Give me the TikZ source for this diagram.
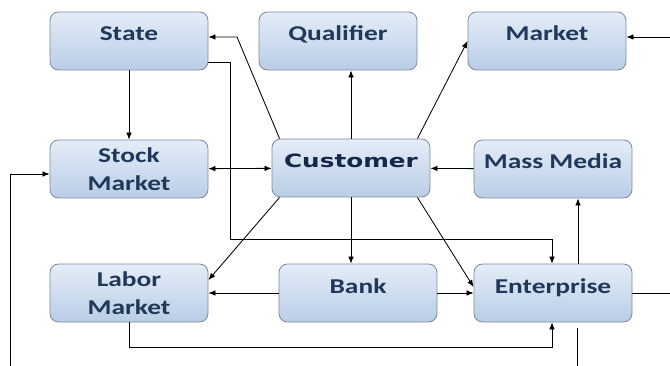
\documentclass[tikz,border=0pt]{standalone}
\usepackage{fontspec}
\setmainfont{Carlito}[FakeStretch=1.3]
\newfontfamily\custfont{DejaVu Sans}[FakeStretch=1.35]
\usetikzlibrary{arrows.meta,calc}
\definecolor{boxtop}{RGB}{228,237,248}
\definecolor{boxbot}{RGB}{185,205,229}
\definecolor{boxline}{RGB}{125,140,160}
\definecolor{boxtext}{RGB}{32,56,90}
\definecolor{custtext}{RGB}{22,40,74}
\begin{document}
\begin{tikzpicture}[x=0.025cm,y=-0.025cm,
    blockbox/.style={draw=boxline,line width=0.6pt,rounded corners=6pt,
      top color=boxtop,bottom color=boxbot,minimum width=158*0.025cm,
      minimum height=58*0.025cm,align=center,text=boxtext,
      font=\bfseries\fontsize{15}{20}\selectfont},
    oneline/.style={text height=10pt,text depth=10pt},
    arr/.style={-{Latex[length=5pt,width=4pt]},line width=0.6pt},
    dbl/.style={{Latex[length=5pt,width=4pt]}-{Latex[length=5pt,width=4pt]},line width=0.6pt}]
      \useasboundingbox (0,0) rectangle (670,366);

      \node[blockbox,oneline] (state) at (129,41) {State};
      \node[blockbox,oneline] (qual) at (338,41) {Qualifier};
      \node[blockbox,oneline] (market) at (547,41) {Market};
      \node[blockbox] (stock) at (129,169) {Stock\\Market};
      \node[blockbox,oneline,text=custtext,font=\custfont\bfseries\fontsize{13}{16}\selectfont] (cust) at (351,168) {Customer};
      \node[blockbox,oneline] (media) at (553,169) {Mass Media};
      \node[blockbox] (labor) at (129,293) {Labor\\Market};
      \node[blockbox,oneline] (bank) at (358,293) {Bank};
      \node[blockbox,oneline] (ent) at (553,293) {Enterprise};

      \coordinate (sbend) at (237,37);
      \coordinate (c1) at (230,239);
      \coordinate (c2) at (552,347);
      \coordinate (c3) at (10,366);
      \coordinate (c4) at (577,366);
      \coordinate (mr) at (670,37);
      \coordinate (er) at (670,293);

      % top row
      \draw[arr] ($(cust.north west)+(8,0)$) -- (sbend) -- (sbend -| state.east);
      \draw[arr] (state) -- (stock);
      \draw[arr] ($(state.east)+(0,21)$) -| (c1) -| ($(ent.north)+(-1,0)$);
      \draw[arr] (cust.north) -- (cust.north |- qual.south);
      \draw[arr] ($(cust.north east)+(-13,0)$) -- (market.west);
      \draw[arr] (mr) -- (mr -| market.east);

      % middle row
      \draw[dbl] (stock) -- (cust);
      \draw[arr] (media) -- (cust);
      \draw[arr] (c3) |- ($(stock.west)+(0,5)$);

      % bottom row
      \draw[arr] ($(cust.south west)+(8,0)$) -- ($(labor.east)+(0,-13)$);
      \draw[arr] (cust.south) -- (cust.south |- bank.north);
      \draw[arr] ($(cust.south east)+(-13,0)$) -- ($(ent.west)+(0,-6)$);
      \draw[arr] (bank) -- (labor);
      \draw[arr] (bank) -- (ent);
      \draw[arr] ($(ent.north)+(25,0)$) -- ($(media.south)+(25,0)$);
      \draw[line width=0.6pt] (ent.east) -- (er);
      \draw[arr] (labor.south) |- (c2) -- (c2 |- ent.south);
      \draw[line width=0.6pt] ($(ent.south)+(24,6)$) -- (c4);
    \end{tikzpicture}
\end{document}
